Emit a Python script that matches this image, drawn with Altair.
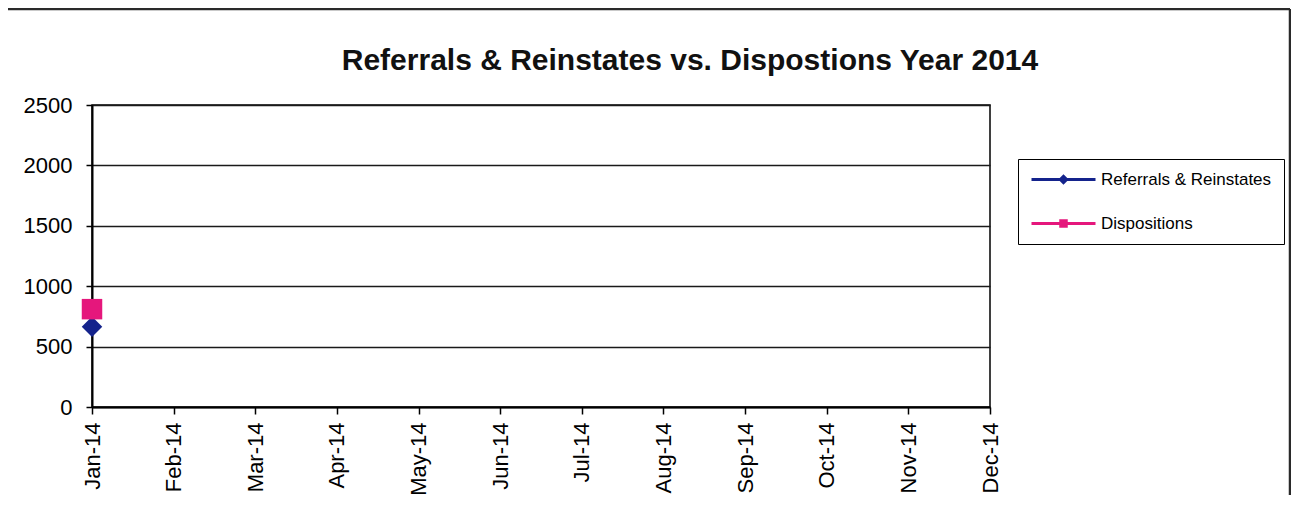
import altair as alt
import pandas as pd

# ---- data ----
months = ["Jan-14", "Feb-14", "Mar-14", "Apr-14", "May-14", "Jun-14",
          "Jul-14", "Aug-14", "Sep-14", "Oct-14", "Nov-14", "Dec-14"]
series_names = ["Referrals & Reinstates", "Dispositions"]
referrals = [665]        # only January is reported
dispositions = [810]     # only January is reported
series_colors = ["#14238C", "#E5177C"]
series_shapes = ["diamond", "square"]
y_ticks = [0, 500, 1000, 1500, 2000, 2500]

rows = []
for i, v in enumerate(referrals):
    rows.append({"month": months[i], "series": series_names[0], "value": v})
for i, v in enumerate(dispositions):
    rows.append({"month": months[i], "series": series_names[1], "value": v})
df = pd.DataFrame(rows)

# legend symbols: line segment with marker (unit coords, r = 7px)
DIA_PATH = "M-1,-0.214H8.143V0.214H-1Z M3.571,-0.75L4.321,0L3.571,0.75L2.821,0Z"
SQ_PATH = "M-1,-0.214H8.143V0.214H-1Z M2.964,-0.607H4.179V0.607H2.964Z"

FONT = "Liberation Sans"

x_enc = alt.X("month:O",
              scale=alt.Scale(type="point", domain=months, padding=0),
              sort=months,
              title=None,
              axis=alt.Axis(labelAngle=-90, labelFont=FONT, labelFontSize=22,
                            labelColor="black", labelPadding=8, tickSize=7,
                            tickColor="black", tickWidth=1.5, domainColor="black",
                            domainWidth=2, grid=False))
y_enc = alt.Y("value:Q",
              scale=alt.Scale(domain=[0, 2500], nice=False),
              title=None,
              axis=alt.Axis(values=y_ticks, format="d", labelFont=FONT,
                            labelFontSize=22, labelColor="black",
                            labelPadding=14, tickSize=6, tickColor="black",
                            tickWidth=1.5, domainColor="black", domainWidth=2,
                            grid=True, gridColor="#1a1a1a", gridWidth=1.5))

base = alt.Chart(df)

# visible markers, one layer per series (drawn in series order)
marker_layers = []
for name, col, shp in zip(series_names, series_colors, series_shapes):
    marker_layers.append(
        base.transform_filter(alt.datum.series == name)
        .mark_point(filled=True, opacity=1, size=420, strokeWidth=0,
                    color=col, shape=shp)
        .encode(x=x_enc, y=y_enc)
    )

# invisible layer that only drives the legend
legend_layer = base.mark_point(filled=True, opacity=0, size=196).encode(
    x=x_enc, y=y_enc,
    color=alt.Color("series:N",
                    scale=alt.Scale(domain=series_names, range=series_colors),
                    legend=alt.Legend(title=None)),
    shape=alt.Shape("series:N",
                    scale=alt.Scale(domain=series_names, range=[DIA_PATH, SQ_PATH]),
                    legend=alt.Legend(title=None)),
)

frame_df = pd.DataFrame({"f": [0]})
frame_style = dict(color="#2a2a2a", strokeWidth=2.5)
frame_top = alt.Chart(frame_df).mark_rule(**frame_style).encode(
    x=alt.value(-88), x2=alt.value(1198), y=alt.value(-96))
frame_left = alt.Chart(frame_df).mark_rule(**frame_style).encode(
    x=alt.value(-88), y=alt.value(-96), y2=alt.value(395))
frame_right = alt.Chart(frame_df).mark_rule(**frame_style).encode(
    x=alt.value(1198), y=alt.value(-96), y2=alt.value(395))

chart = alt.layer(frame_top, frame_left, frame_right, legend_layer,
                  *marker_layers).properties(
    width=898,
    height=302,
    background="white",
    autosize=alt.AutoSizeParams(type="none"),
    padding={"left": 84, "top": 97, "right": 301, "bottom": 88},
    title=alt.TitleParams(
        text="Referrals & Reinstates vs. Dispostions  Year 2014",
        font=FONT, fontSize=30, fontWeight="bold", color="#111111",
        anchor="middle", frame="group", dx=149, dy=86, offset=18),
).configure_view(
    stroke="black", strokeWidth=1.5
).configure_legend(
    orient="none", legendX=926, legendY=54, direction="vertical",
    strokeColor="black", fillColor="white", padding=12, rowPadding=26,
    symbolSize=196, symbolStrokeWidth=0, symbolOpacity=1, labelOffset=54,
    labelFont=FONT, labelFontSize=17, labelColor="black", labelLimit=400,
)

chart.save("out.html", embed_options={"renderer": "svg", "actions": False})
